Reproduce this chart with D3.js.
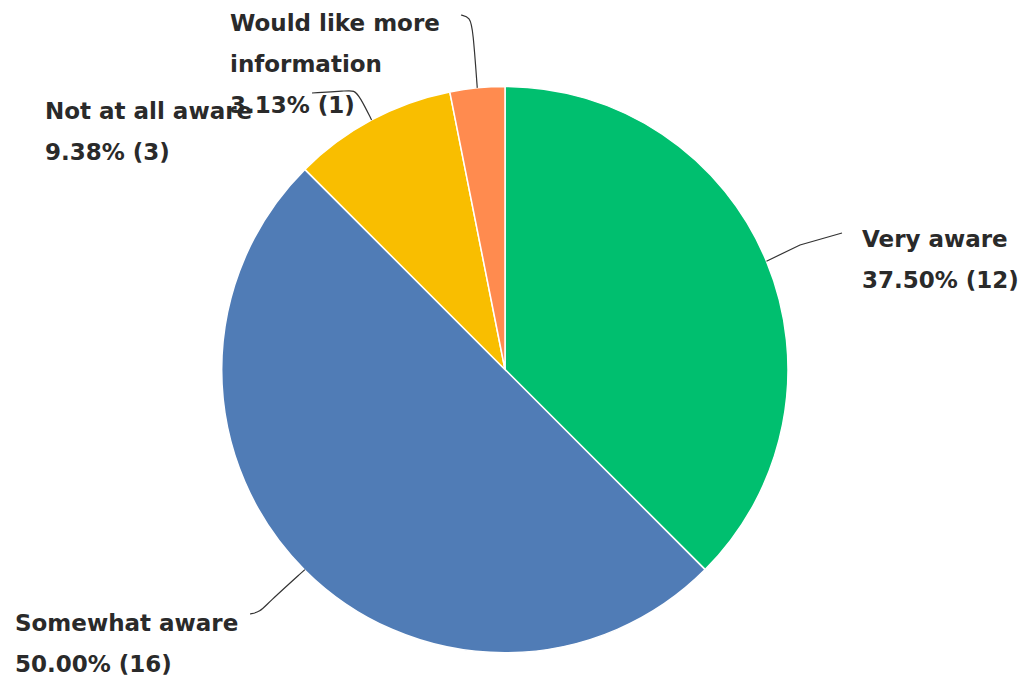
<!DOCTYPE html>
<html><head><meta charset="utf-8">
<script src="https://cdn.jsdelivr.net/npm/d3@7"></script>
<style>html,body{margin:0;padding:0;background:#fff;}svg{display:block;}</style>
</head><body>
<svg id="chart" width="1026" height="682"></svg>
<script>
// Data
const categories = ["Very aware", "Somewhat aware", "Not at all aware", "Would like more information"];
const counts = [12, 16, 3, 1];
const percents = ["37.50%", "50.00%", "9.38%", "3.13%"];
const colors = ["#00BF6F", "#507CB6", "#F9BE00", "#FF8B4F"];

// Layout (label text lines, anchor positions, leader line shapes)
const labelLines = [
  ["Very aware"],
  ["Somewhat aware"],
  ["Not at all aware"],
  ["Would like more", "information"]
];
const labelPos = [
  {x: 862, y: 247},
  {x: 15, y: 631},
  {x: 45, y: 119},
  {x: 230, y: 31}
];
const leaderPts = [
  [[800, 245], [842, 233]],
  [[268, 603], [260, 612], [250, 614]],
  [[360, 97], [354, 90], [346, 91], [312, 93]],
  [[473, 30], [470, 17], [461, 15]]
];

const cx = 505, cy = 369.5, R = 283;
const svg = d3.select("#chart");
const g = svg.append("g").attr("transform", `translate(${cx},${cy})`);

const pie = d3.pie().sort(null).value(d => d)(counts);
const arc = d3.arc().innerRadius(0).outerRadius(R);

g.selectAll("path.slice").data(pie).join("path")
  .attr("class", "slice")
  .attr("d", arc)
  .attr("fill", (d, i) => colors[i])
  .attr("stroke", "#fff")
  .attr("stroke-width", 1.5);

// Leader lines
const line = d3.line().curve(d3.curveBasis);
pie.forEach((d, i) => {
  const a = (d.startAngle + d.endAngle) / 2;
  const sx = cx + R * Math.sin(a), sy = cy - R * Math.cos(a);
  const pts = [[sx, sy]].concat(leaderPts[i]);
  svg.append("path")
    .attr("d", i === 0 ? d3.line()(pts) : line([[sx, sy], ...pts]))
    .attr("fill", "none")
    .attr("stroke", "#333")
    .attr("stroke-width", 1.2);
});

// Labels
pie.forEach((d, i) => {
  const lines = labelLines[i].concat([`${percents[i]} (${counts[i]})`]);
  const t = svg.append("text")
    .attr("x", labelPos[i].x).attr("y", labelPos[i].y)
    .attr("font-family", "DejaVu Sans, sans-serif")
    .attr("font-weight", "bold")
    .attr("font-size", 23)
    .attr("fill", "#2a2a2a");
  lines.forEach((s, j) => {
    t.append("tspan").attr("x", labelPos[i].x).attr("dy", j === 0 ? 0 : 41).text(s);
  });
});
</script>
</body></html>
